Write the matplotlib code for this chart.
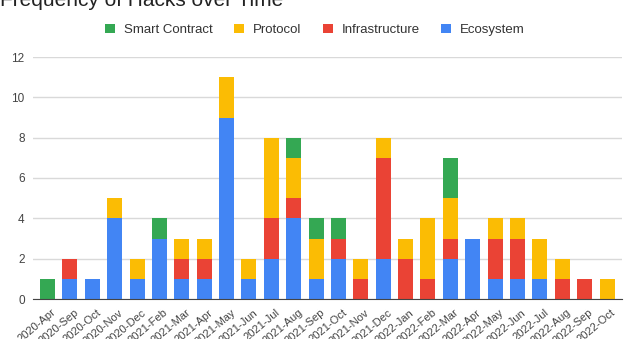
import matplotlib.pyplot as plt
import matplotlib.transforms as mtransforms
import numpy as np

plt.rcParams['font.family'] = ['Liberation Sans', 'DejaVu Sans']

months = ['2020-Apr', '2020-Sep', '2020-Oct', '2020-Nov', '2020-Dec', '2021-Feb',
          '2021-Mar', '2021-Apr', '2021-May', '2021-Jun', '2021-Jul', '2021-Aug',
          '2021-Sep', '2021-Oct', '2021-Nov', '2021-Dec', '2022-Jan', '2022-Feb',
          '2022-Mar', '2022-Apr', '2022-May', '2022-Jun', '2022-Jul', '2022-Aug',
          '2022-Sep', '2022-Oct']

ecosystem      = [0, 1, 1, 4, 1, 3, 1, 1, 9, 1, 2, 4, 1, 2, 0, 2, 0, 0, 2, 3, 1, 1, 1, 0, 0, 0]
infrastructure = [0, 1, 0, 0, 0, 0, 1, 1, 0, 0, 2, 1, 0, 1, 1, 5, 2, 1, 1, 0, 2, 2, 0, 1, 1, 0]
protocol       = [0, 0, 0, 1, 1, 0, 1, 1, 2, 1, 4, 2, 2, 0, 1, 1, 1, 3, 2, 0, 1, 1, 2, 1, 0, 1]
smart_contract = [1, 0, 0, 0, 0, 1, 0, 0, 0, 0, 0, 1, 1, 1, 0, 0, 0, 0, 2, 0, 0, 0, 0, 0, 0, 0]

colors = {'Smart Contract': '#34A853', 'Protocol': '#FBBC04',
          'Infrastructure': '#EA4335', 'Ecosystem': '#4285F4'}

fig = plt.figure(figsize=(6.4, 3.39), dpi=100)
ax = fig.add_axes([33 / 640, 1 - 299 / 339, 589 / 640, 242 / 339])

x = np.arange(len(months))
w = 0.67
bottom = np.zeros(len(months))
handles = {}
for name, vals in [('Ecosystem', ecosystem), ('Infrastructure', infrastructure),
                   ('Protocol', protocol), ('Smart Contract', smart_contract)]:
    vals = np.array(vals)
    handles[name] = ax.bar(x, vals, w, bottom=bottom, color=colors[name], zorder=3)
    bottom += vals

ax.set_xlim(-0.65, len(months) - 0.33)
ax.set_ylim(0, 12)
ax.set_yticks(range(0, 13, 2))
ax.grid(axis='y', color='#d9d9d9', linewidth=1, zorder=0)
for s in ['top', 'right', 'left']:
    ax.spines[s].set_visible(False)
ax.spines['bottom'].set_color('#444444')
ax.spines['bottom'].set_zorder(4)
ax.tick_params(length=0, labelsize=8.5, colors='#444444', pad=6)

ax.set_xticks(x)
ax.set_xticklabels(months, rotation=40, ha='right', rotation_mode='anchor', fontsize=8)
offset = mtransforms.ScaledTranslation(4 / 100, 0, fig.dpi_scale_trans)
for lbl in ax.get_xticklabels():
    lbl.set_transform(lbl.get_transform() + offset)

fig.text(0.0, 1 - 6 / 339, 'Frequency of Hacks over Time', fontsize=15,
         color='#222222', va='baseline', ha='left')

order = ['Smart Contract', 'Protocol', 'Infrastructure', 'Ecosystem']
fig.legend([handles[n] for n in order], order, loc='center', ncol=4,
           bbox_to_anchor=(315 / 640, 1 - 30 / 339), frameon=False,
           fontsize=9.5, handlelength=0.75, handleheight=0.75,
           columnspacing=1.6, handletextpad=0.7, labelcolor='#333333')

fig.savefig('out.png', dpi=100)
